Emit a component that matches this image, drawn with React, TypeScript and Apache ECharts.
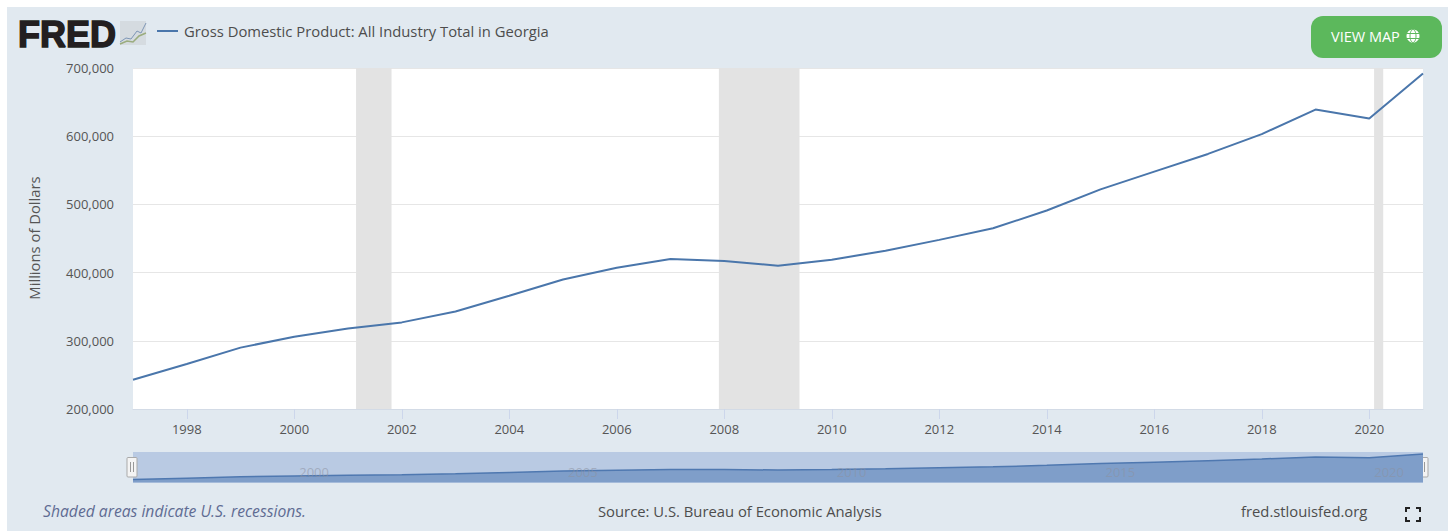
import React, { useEffect, useRef } from "react";
import * as echarts from "echarts";

const years = [1997,1998,1999,2000,2001,2002,2003,2004,2005,2006,2007,2008,2009,2010,2011,2012,2013,2014,2015,2016,2017,2018,2019,2020,2021];
const gdp = [243000,266000,290000,306000,318000,327000,343000,366000,390000,407000,420000,417000,410000,419000,432000,448000,465000,491000,522000,548000,574000,603000,639000,626000,692000];
const recessions = [[2001.15,2001.81],[2007.9,2009.4],[2020.09,2020.26]];
const xTickYears = [1998,2000,2002,2004,2006,2008,2010,2012,2014,2016,2018,2020];
const navTickYears = [2000,2005,2010,2015,2020];
const titleText = "Gross Domestic Product: All Industry Total in Georgia";

const FONT = "'Open Sans', sans-serif";
const PANEL = "#e1e9f0";
const LINE = "#4a76ab";
const TEXT = "#555555";
const seriesData = years.map((y, i) => [y, gdp[i]]);

const xMin = years[0];
const xMax = years[years.length - 1];

function handle(cx: number) {
  return {
    type: "group",
    z: 20,
    children: [
      { type: "rect", shape: { x: cx - 5, y: 457.5, width: 10, height: 19.5, r: 1 }, style: { fill: "#f4f4f4", stroke: "#a9a9a9", lineWidth: 1 } },
      { type: "line", shape: { x1: cx - 1.5, y1: 462, x2: cx - 1.5, y2: 472 }, style: { stroke: "#999999", lineWidth: 1 } },
      { type: "line", shape: { x1: cx + 1.5, y1: 462, x2: cx + 1.5, y2: 472 }, style: { stroke: "#999999", lineWidth: 1 } },
    ],
  };
}

function corner(x1: number, y1: number, x2: number, y2: number, x3: number, y3: number) {
  return { type: "polyline", z: 20, shape: { points: [[x1, y1], [x2, y2], [x3, y3]] }, style: { fill: "none", stroke: "#222222", lineWidth: 2 } };
}

export default function App() {
  const ref = useRef<HTMLDivElement>(null);
  useEffect(() => {
    document.body.style.margin = "0";
    document.body.style.background = "#ffffff";
    const chart = echarts.init(ref.current!, undefined, { renderer: "svg" });
    chart.setOption({
      animation: false,
      backgroundColor: PANEL,
      textStyle: { fontFamily: FONT },
      grid: [
        { left: 133, top: 68, width: 1290, height: 341, show: true, backgroundColor: "#ffffff", borderWidth: 0 },
        { left: 133, top: 452, width: 1290, height: 30.5, show: true, backgroundColor: "#b9cae3", borderWidth: 0 },
      ],
      xAxis: [
        {
          type: "value", gridIndex: 0, min: xMin, max: xMax,
          axisLine: { show: true, onZero: false, lineStyle: { color: "#d3dbe6", width: 1 } },
          axisTick: { show: true, length: 10, lineStyle: { color: "#ccd6eb" }, customValues: xTickYears },
          splitLine: { show: false },
          axisLabel: {
            color: TEXT, fontSize: 13, fontFamily: FONT, margin: 13,
            customValues: xTickYears,
            formatter: (v: number) => String(v),
          },
        },
        {
          type: "value", gridIndex: 1, min: xMin, max: xMax, z: 10,
          axisLine: { show: false, onZero: false },
          axisTick: { show: false },
          splitLine: { show: false },
          axisLabel: {
            inside: true, color: "rgba(140,145,160,0.55)", fontSize: 13, fontFamily: FONT, margin: 4, align: "left", padding: [0, 0, 0, 5],
            customValues: navTickYears,
            formatter: (v: number) => String(v),
          },
        },
      ],
      yAxis: [
        {
          type: "value", gridIndex: 0, min: 200000, max: 700000, interval: 100000,
          axisLine: { show: false }, axisTick: { show: false },
          splitLine: { show: true, lineStyle: { color: "#e6e6e6", width: 1 } },
          axisLabel: { color: TEXT, fontSize: 13, fontFamily: FONT, margin: 19, formatter: (v: number) => v.toLocaleString("en-US") },
        },
        {
          type: "value", gridIndex: 1, min: 190000, max: 726000,
          axisLine: { show: false }, axisTick: { show: false }, splitLine: { show: false }, axisLabel: { show: false },
        },
      ],
      series: [
        {
          type: "line", name: titleText, xAxisIndex: 0, yAxisIndex: 0, data: seriesData, showSymbol: false, symbol: "none",
          lineStyle: { color: LINE, width: 2 }, itemStyle: { color: LINE }, z: 5,
          markArea: {
            silent: true,
            itemStyle: { color: "#e3e3e3" },
            data: recessions.map(([a, b]) => [{ xAxis: a }, { xAxis: b }]),
          },
        },
        {
          type: "line", xAxisIndex: 1, yAxisIndex: 1, data: seriesData, showSymbol: false, symbol: "none",
          lineStyle: { color: "#4f78b0", width: 1.5 }, areaStyle: { color: "#7f9ec9", opacity: 1 }, z: 1,
        },
      ],
      graphic: [
        { type: "rect", z: 30, shape: { x: 0, y: 0, width: 1448, height: 7 }, style: { fill: "#ffffff" } },
        { type: "rect", z: 30, shape: { x: 0, y: 0, width: 7, height: 531 }, style: { fill: "#ffffff" } },
        { type: "text", z: 20, x: 18, y: 16, style: { text: "FRED", font: "bold 36px 'Liberation Sans', sans-serif", fill: "#231f20", stroke: "#231f20", lineWidth: 1.5 } },
        { type: "rect", z: 20, shape: { x: 120, y: 21, width: 26, height: 24 }, style: { fill: "#d5dbe0" } },
        { type: "polyline", z: 21, shape: { points: [[120, 42], [126, 38], [131, 39], [137, 31], [141, 33], [146, 23]] }, style: { fill: "none", stroke: "#7d96b6", lineWidth: 1 } },
        { type: "polyline", z: 21, shape: { points: [[120, 44], [127, 41], [133, 42], [139, 36], [146, 33]] }, style: { fill: "none", stroke: "#9aac7e", lineWidth: 1.5 } },
        { type: "line", z: 20, shape: { x1: 157, y1: 31, x2: 178, y2: 31 }, style: { stroke: LINE, lineWidth: 2 } },
        { type: "text", z: 20, x: 184, y: 31, style: { text: titleText, font: `14.8px ${FONT}`, fill: "#4d4d4d", verticalAlign: "middle" } },
        { type: "rect", z: 20, shape: { x: 1311, y: 16, width: 131, height: 42, r: 12 }, style: { fill: "#5cb85c" } },
        { type: "text", z: 21, x: 1331, y: 36, style: { text: "VIEW MAP", font: `14.5px ${FONT}`, fill: "#ffffff", verticalAlign: "middle" } },
        { type: "circle", z: 21, shape: { cx: 1413, cy: 36, r: 6.5 }, style: { fill: "#ffffff" } },
        { type: "line", z: 22, shape: { x1: 1406.5, y1: 33.5, x2: 1419.5, y2: 33.5 }, style: { stroke: "#5cb85c", lineWidth: 1 } },
        { type: "line", z: 22, shape: { x1: 1406.5, y1: 38.5, x2: 1419.5, y2: 38.5 }, style: { stroke: "#5cb85c", lineWidth: 1 } },
        { type: "ellipse", z: 22, shape: { cx: 1413, cy: 36, rx: 3, ry: 6.5 }, style: { fill: "none", stroke: "#5cb85c", lineWidth: 1 } },
        { type: "text", z: 20, x: 34, y: 238, rotation: Math.PI / 2, style: { text: "Millions of Dollars", font: `14.8px ${FONT}`, fill: TEXT, align: "center", verticalAlign: "middle" } },
        handle(132),
        handle(1423),
        { type: "text", z: 20, x: 43, y: 511, style: { text: "Shaded areas indicate U.S. recessions.", font: `italic 15.7px ${FONT}`, fill: "#5f6c93", verticalAlign: "middle" } },
        { type: "text", z: 20, x: 598, y: 511, style: { text: "Source: U.S. Bureau of Economic Analysis", font: `14.8px ${FONT}`, fill: "#4d4d4d", verticalAlign: "middle" } },
        { type: "text", z: 20, x: 1241, y: 511, style: { text: "fred.stlouisfed.org", font: `14.8px ${FONT}`, fill: "#4d4d4d", verticalAlign: "middle" } },
        corner(1406, 512, 1406, 508, 1410, 508),
        corner(1416, 508, 1420, 508, 1420, 512),
        corner(1406, 517, 1406, 521, 1410, 521),
        corner(1416, 521, 1420, 521, 1420, 517),
      ],
    });
    return () => chart.dispose();
  }, []);
  return <div ref={ref} style={{ position: "absolute", left: 0, top: 0, width: 1448, height: 531 }} />;
}
